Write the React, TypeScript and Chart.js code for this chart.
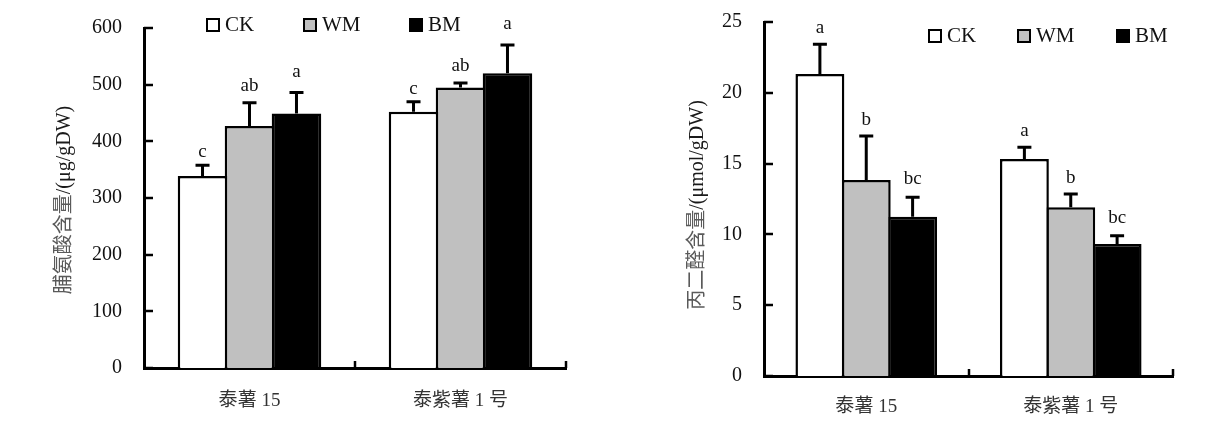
import React, { useEffect, useRef } from "react";
import { Chart, registerables } from "chart.js";

Chart.register(...registerables);

// ---- data ----
const categories = ["泰薯 15", "泰紫薯 1 号"];
const seriesNames = ["CK", "WM", "BM"];

const prolineCK = [339, 452];
const prolineWM = [427, 495];
const prolineBM = [449, 520];
const prolineErrCK = [19, 18];
const prolineErrWM = [41, 8];
const prolineErrBM = [37, 50];
const prolineLettersCK = ["c", "c"];
const prolineLettersWM = ["ab", "ab"];
const prolineLettersBM = ["a", "a"];

const mdaCK = [21.33, 15.32];
const mdaWM = [13.84, 11.91];
const mdaBM = [11.25, 9.32];
const mdaErrCK = [2.09, 0.83];
const mdaErrWM = [3.11, 0.94];
const mdaErrBM = [1.37, 0.59];
const mdaLettersCK = ["a", "a"];
const mdaLettersWM = ["b", "b"];
const mdaLettersBM = ["bc", "bc"];

const prolineAxis = { min: 0, max: 600, step: 100 };
const mdaAxis = { min: 0, max: 25, step: 5 };

const prolineTitle = ["脯氨酸含量", "/(μg/gDW)"];
const mdaTitle = ["丙二醛含量", "/(μmol/gDW)"];

// ---- styles ----
const FONT = '"Liberation Serif", "Noto Sans CJK SC", serif';
const fills = ["#ffffff", "#c0c0c0", "#000000"];

type Spec = {
  values: number[][];
  errs: number[][];
  letters: string[][];
  letterGaps: number[];
  axis: { min: number; max: number; step: number };
  title: string[];
  titlePos: [number, number];
  legendBoxX: number[];
  legendBoxY: number;
  area: { left: number; top: number; right: number; bottom: number };
  catPct: number;
  xPad: number;
};

function makeConfig(s: Spec): any {
  const W = 610,
    H = 431;
  const yWidth = 60;
  const barBorder = 2.5;
  const decor = {
    id: "decor",
    afterDatasetsDraw(chart: any) {
      const ctx = chart.ctx;
      const ys = chart.scales.y;
      const xs = chart.scales.x;
      const a = chart.chartArea;
      ctx.save();
      ctx.strokeStyle = "#000";
      ctx.lineWidth = 2.5;
      // inward y ticks
      ys.ticks.forEach((t: any) => {
        const py = Math.round(ys.getPixelForValue(t.value));
        ctx.beginPath();
        ctx.moveTo(a.left, py);
        ctx.lineTo(a.left + 9, py);
        ctx.stroke();
      });
      // category boundary ticks
      const bx: number[] = [];
      for (let i = 0; i < categories.length - 1; i++) {
        bx.push((xs.getPixelForValue(i) + xs.getPixelForValue(i + 1)) / 2);
      }
      bx.push(a.right);
      bx.forEach((x) => {
        ctx.beginPath();
        ctx.moveTo(Math.round(x), a.bottom);
        ctx.lineTo(Math.round(x), a.bottom - 7);
        ctx.stroke();
      });
      // error bars + letters
      chart.data.datasets.forEach((ds: any, di: number) => {
        const meta = chart.getDatasetMeta(di);
        meta.data.forEach((bar: any, i: number) => {
          const v = ds.data[i];
          const top = ys.getPixelForValue(v + s.errs[di][i]);
          ctx.lineWidth = 3;
          ctx.strokeStyle = "#000";
          ctx.beginPath();
          ctx.moveTo(bar.x, bar.y);
          ctx.lineTo(bar.x, top);
          ctx.moveTo(bar.x - 7, top);
          ctx.lineTo(bar.x + 7, top);
          ctx.stroke();
          ctx.fillStyle = "#111";
          ctx.font = "19px " + FONT;
          ctx.textAlign = "center";
          ctx.textBaseline = "alphabetic";
          ctx.fillText(s.letters[di][i], bar.x, top - s.letterGaps[di]);
        });
      });
      // legend
      seriesNames.forEach((name, i) => {
        const x = s.legendBoxX[i];
        const y = s.legendBoxY;
        ctx.fillStyle = fills[i];
        ctx.fillRect(x, y, 14, 14);
        ctx.lineWidth = 2;
        ctx.strokeStyle = "#000";
        ctx.strokeRect(x + 1, y + 1, 12, 12);
        ctx.fillStyle = "#111";
        ctx.font = "21px " + FONT;
        ctx.textAlign = "left";
        ctx.textBaseline = "alphabetic";
        ctx.fillText(name, x + 19, y + 13);
      });
      // y title
      ctx.translate(s.titlePos[0], s.titlePos[1]);
      ctx.rotate(-Math.PI / 2);
      ctx.font = "20px " + FONT;
      ctx.textBaseline = "middle";
      ctx.textAlign = "left";
      const w0 = ctx.measureText(s.title[0]).width;
      const w1 = ctx.measureText(s.title[1]).width;
      let sx = -(w0 + w1) / 2;
      ctx.fillStyle = "#5a5a5a";
      ctx.fillText(s.title[0], sx, 0);
      ctx.fillStyle = "#1a1a1a";
      ctx.fillText(s.title[1], sx + w0, 0);
      ctx.restore();
    },
  };

  return {
    type: "bar",
    data: {
      labels: categories,
      datasets: seriesNames.map((name, i) => ({
        label: name,
        data: s.values[i],
        backgroundColor: fills[i],
        borderColor: "#000",
        borderWidth: barBorder,
        borderSkipped: "start",
        categoryPercentage: s.catPct,
        barPercentage: 1.055,
      })),
    },
    options: {
      responsive: false,
      animation: false,
      devicePixelRatio: 1,
      layout: {
        padding: {
          left: s.area.left - yWidth,
          top: s.area.top,
          right: W - s.area.right,
          bottom: 0,
        },
      },
      plugins: {
        legend: { display: false },
        tooltip: { enabled: false },
        title: { display: false },
      },
      scales: {
        x: {
          type: "category",
          grid: { display: false, drawTicks: false },
          border: { display: true, color: "#000", width: 3 },
          ticks: {
            color: "#333",
            font: { family: FONT, size: 19 },
            padding: s.xPad,
            maxRotation: 0,
          },
          afterFit: (scale: any) => {
            scale.height = H - s.area.bottom;
            scale.paddingLeft = 0;
            scale.paddingRight = 0;
          },
        },
        y: {
          min: s.axis.min,
          max: s.axis.max,
          ticks: {
            stepSize: s.axis.step,
            color: "#111",
            font: { family: FONT, size: 20 },
            padding: 22,
          },
          grid: { display: false, drawTicks: false },
          border: { display: true, color: "#000", width: 3 },
          afterFit: (scale: any) => {
            scale.width = yWidth;
            scale.paddingTop = 0;
            scale.paddingBottom = 0;
          },
        },
      },
    },
    plugins: [decor],
  };
}

function BarChart({ spec, left }: { spec: Spec; left: number }) {
  const ref = useRef<HTMLCanvasElement | null>(null);
  useEffect(() => {
    if (!ref.current) return;
    const chart = new Chart(ref.current, makeConfig(spec));
    return () => chart.destroy();
  }, []);
  return (
    <canvas
      ref={ref}
      width={610}
      height={431}
      style={{ position: "absolute", left, top: 0, width: 610, height: 431, display: "block" }}
    />
  );
}

const leftSpec: Spec = {
  values: [prolineCK, prolineWM, prolineBM],
  errs: [prolineErrCK, prolineErrWM, prolineErrBM],
  letters: [prolineLettersCK, prolineLettersWM, prolineLettersBM],
  letterGaps: [8, 12, 16],
  axis: prolineAxis,
  title: prolineTitle,
  titlePos: [65, 200],
  legendBoxX: [206, 303, 409],
  legendBoxY: 18,
  area: { left: 144, top: 28, right: 566, bottom: 368 },
  catPct: 0.668,
  xPad: 22,
};

const rightSpec: Spec = {
  values: [mdaCK, mdaWM, mdaBM],
  errs: [mdaErrCK, mdaErrWM, mdaErrBM],
  letters: [mdaLettersCK, mdaLettersWM, mdaLettersBM],
  letterGaps: [11, 11, 13],
  axis: mdaAxis,
  title: mdaTitle,
  titlePos: [88, 205],
  legendBoxX: [318, 407, 506],
  legendBoxY: 29,
  area: { left: 154, top: 22, right: 563, bottom: 376 },
  catPct: 0.68,
  xPad: 20,
};

export default function App() {
  return (
    <div style={{ position: "absolute", left: 0, top: 0, width: 1220, height: 431, background: "#fff", overflow: "hidden" }}>
      <BarChart spec={leftSpec} left={0} />
      <BarChart spec={rightSpec} left={610} />
    </div>
  );
}
